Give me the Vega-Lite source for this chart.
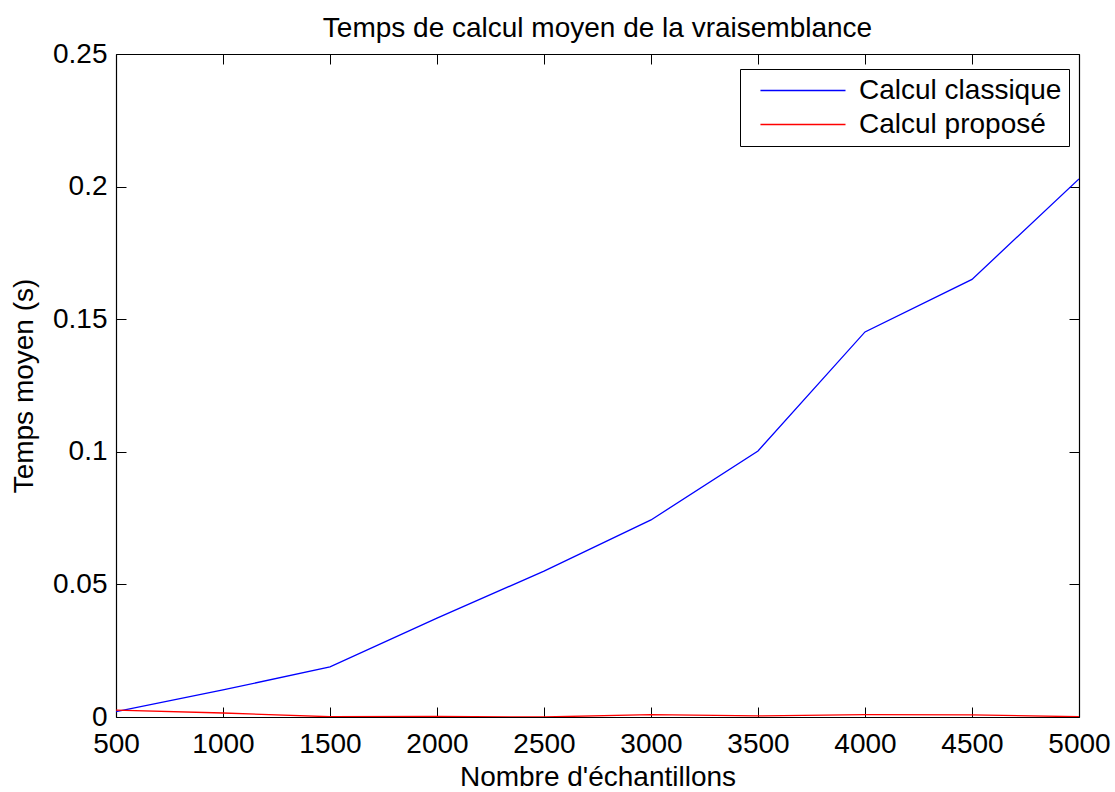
{
  "$schema": "https://vega.github.io/schema/vega-lite/v6.json",
  "autosize": {"type": "none"},
  "width": 963,
  "height": 663,
  "padding": {"left": 116, "top": 54, "right": 36, "bottom": 75},
  "background": "white",
  "config": {
    "font": "Liberation Sans",
    "view": {"stroke": null},
    "axis": {"grid": false, "domainColor": "black", "tickColor": "black", "labelColor": "black", "titleColor": "black", "labelFont": "Liberation Sans", "titleFont": "Liberation Sans", "labelFontSize": 28, "titleFontSize": 28, "titleFontWeight": "normal", "tickSize": -10, "domainWidth": 1.2, "tickWidth": 1}
  },
  "title": {"text": "Temps de calcul moyen de la vraisemblance", "fontSize": 28, "fontWeight": "normal", "font": "Liberation Sans", "color": "black", "offset": -3},
  "data": {"values": [
    {"n": 500, "serie": "Calcul classique", "t": 0.002},
    {"n": 1000, "serie": "Calcul classique", "t": 0.0102},
    {"n": 1500, "serie": "Calcul classique", "t": 0.0189},
    {"n": 2000, "serie": "Calcul classique", "t": 0.0373},
    {"n": 2500, "serie": "Calcul classique", "t": 0.055},
    {"n": 3000, "serie": "Calcul classique", "t": 0.0743},
    {"n": 3500, "serie": "Calcul classique", "t": 0.1003},
    {"n": 4000, "serie": "Calcul classique", "t": 0.1452},
    {"n": 4500, "serie": "Calcul classique", "t": 0.165},
    {"n": 5000, "serie": "Calcul classique", "t": 0.2029},
    {"n": 500, "serie": "Calcul proposé", "t": 0.0026},
    {"n": 1000, "serie": "Calcul proposé", "t": 0.0015},
    {"n": 1500, "serie": "Calcul proposé", "t": 0.0001},
    {"n": 2000, "serie": "Calcul proposé", "t": 0.0002},
    {"n": 2500, "serie": "Calcul proposé", "t": 0.0},
    {"n": 3000, "serie": "Calcul proposé", "t": 0.0009},
    {"n": 3500, "serie": "Calcul proposé", "t": 0.0004},
    {"n": 4000, "serie": "Calcul proposé", "t": 0.0009},
    {"n": 4500, "serie": "Calcul proposé", "t": 0.0008},
    {"n": 5000, "serie": "Calcul proposé", "t": 0.0001}
  ]},
  "layer": [
    {
      "mark": {"type": "line", "strokeWidth": 1.3, "clip": true},
      "encoding": {
        "x": {"field": "n", "type": "quantitative", "scale": {"domain": [500, 5000], "nice": false, "zero": false},
              "axis": {"orient": "bottom", "values": [500,1000,1500,2000,2500,3000,3500,4000,4500,5000], "format": "d", "title": "Nombre d'échantillons", "labelPadding": 23, "titlePadding": 5, "labelFlush": false}},
        "y": {"field": "t", "type": "quantitative", "scale": {"domain": [0, 0.25], "nice": false},
              "axis": {"orient": "left", "values": [0, 0.05, 0.1, 0.15, 0.2, 0.25], "format": ".2~f", "title": "Temps moyen (s)", "labelPadding": 19, "titlePadding": 14}},
        "color": {"field": "serie", "type": "nominal",
                  "scale": {"domain": ["Calcul classique", "Calcul proposé"], "range": ["#0000ff", "#ff0000"]},
                  "legend": {"title": null, "orient": "none", "legendX": 624, "legendY": 15,
                             "symbolType": "M-0.1,0H8", "symbolSize": 441, "symbolStrokeWidth": 1.3,
                             "labelFontSize": 28, "labelFont": "Liberation Sans", "labelColor": "black", "labelOffset": 83.5,
                             "strokeColor": "black", "fillColor": "white", "padding": 7.5, "rowPadding": 6, "cornerRadius": 0, "labelLimit": 400}}
      }
    },
    {
      "mark": {"type": "line", "strokeOpacity": 0},
      "encoding": {
        "x": {"field": "n", "type": "quantitative", "scale": {"domain": [500, 5000], "nice": false, "zero": false},
              "axis": {"orient": "top", "values": [500,1000,1500,2000,2500,3000,3500,4000,4500,5000], "labels": false, "title": null}},
        "y": {"field": "t", "type": "quantitative", "scale": {"domain": [0, 0.25], "nice": false},
              "axis": {"orient": "right", "values": [0, 0.05, 0.1, 0.15, 0.2, 0.25], "labels": false, "title": null}},
        "detail": {"field": "serie"}
      }
    }
  ],
  "resolve": {"axis": {"x": "independent", "y": "independent"}}
}
